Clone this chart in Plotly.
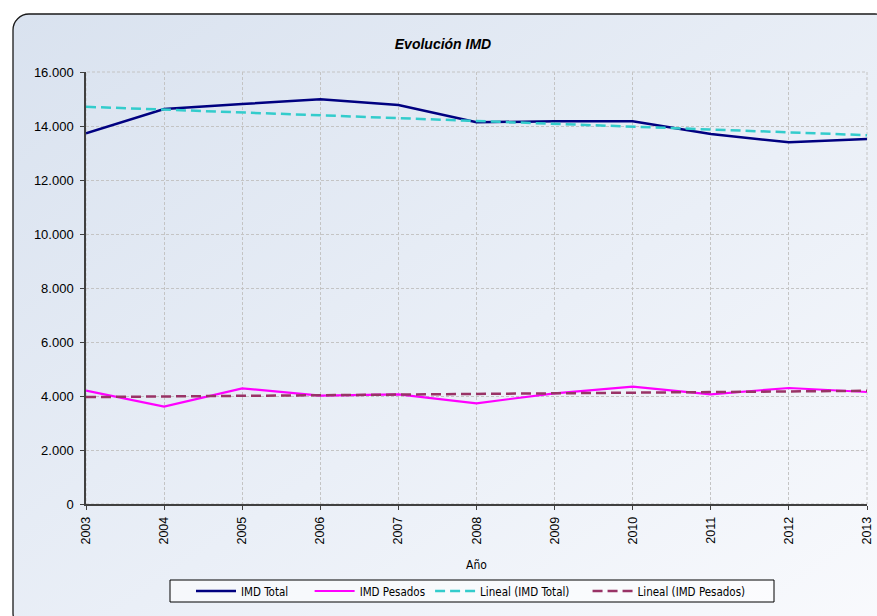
import base64
import numpy as np
import plotly.graph_objects as go

years = [2003, 2004, 2005, 2006, 2007, 2008, 2009, 2010, 2011, 2012, 2013]
imd_total = [13730, 14630, 14815, 14990, 14780, 14137, 14174, 14174, 13700, 13396, 13518]
imd_pesados = [4197, 3604, 4285, 4012, 4062, 3730, 4100, 4345, 4062, 4297, 4148]
y_ticks = [0, 2000, 4000, 6000, 8000, 10000, 12000, 14000, 16000]
series_names = ["IMD Total", "IMD Pesados", "Lineal (IMD Total)", "Lineal (IMD Pesados)"]

x = np.array(years, dtype=float)
fit_total = np.polyval(np.polyfit(x, imd_total, 1), x)
fit_pesados = np.polyval(np.polyfit(x, imd_pesados, 1), x)

W, H = 877, 616
L, R, T, B = 86, 10, 72, 112
pw, ph = W - L - R, H - T - B


def px_x(p):
    return (p - L) / pw


def px_y(p):
    return (H - B - p) / ph


# background: rounded rectangle with soft gradient
bx0, by0, bx1, by1 = 12, 13, 892, 630
bw, bh = bx1 - bx0, by1 - by0
svg = f'''<svg xmlns="http://www.w3.org/2000/svg" width="{bw}" height="{bh}" viewBox="0 0 {bw} {bh}" preserveAspectRatio="none">
<defs><linearGradient id="g" x1="0" y1="0" x2="1" y2="1">
<stop offset="0" stop-color="#d9e2ef"/><stop offset="0.55" stop-color="#eaeff7"/><stop offset="1" stop-color="#f9fafd"/>
</linearGradient></defs>
<rect x="1" y="1" width="{bw-2}" height="{bh-2}" rx="16" ry="16" fill="url(#g)" stroke="#1a1a1a" stroke-width="1.3"/>
</svg>'''
src = "data:image/svg+xml;base64," + base64.b64encode(svg.encode()).decode()

pad = ["\u00a0" * 5, "", "\u00a0" * 4, ""]

fig = go.Figure()
fig.add_trace(go.Scatter(x=years, y=imd_total, mode="lines", name=series_names[0] + pad[0],
                         line=dict(color="#000080", width=2.5)))
fig.add_trace(go.Scatter(x=years, y=imd_pesados, mode="lines", name=series_names[1] + pad[1],
                         line=dict(color="#ff00ff", width=2.2)))
fig.add_trace(go.Scatter(x=years, y=fit_total, mode="lines", name=series_names[2] + pad[2],
                         line=dict(color="#33cccc", width=2.5, dash="10px,5px")))
fig.add_trace(go.Scatter(x=years, y=fit_pesados, mode="lines", name=series_names[3] + pad[3],
                         line=dict(color="#993366", width=2.5, dash="10px,5px")))

fig.update_layout(
    width=W, height=H,
    margin=dict(l=L, r=R, t=T, b=B, autoexpand=False),
    paper_bgcolor="white",
    plot_bgcolor="rgba(0,0,0,0)",
    separators=",.",
    font=dict(family="Liberation Sans, Arial", size=12, color="#000000"),
    title=dict(text="<b><i>Evolución IMD</i></b>", x=443 / W, xref="container", xanchor="center",
               y=1 - 44 / H, yref="container", yanchor="middle",
               font=dict(family="Liberation Sans, Arial", size=14, color="#000000")),
    images=[dict(source=src, xref="paper", yref="paper",
                 x=px_x(bx0), y=px_y(by0),
                 sizex=bw / pw, sizey=bh / ph,
                 xanchor="left", yanchor="top", sizing="stretch", layer="below")],
    legend=dict(orientation="h", x=px_x(191), xanchor="left",
                y=px_y(591), yanchor="middle",
                bgcolor="rgba(0,0,0,0)", borderwidth=0,
                font=dict(family="DejaVu Sans Condensed, DejaVu Sans", size=11.5, color="#000000"),
                itemwidth=40, tracegroupgap=0),
    showlegend=True,
)

grid = dict(showgrid=True, gridcolor="#c4c4c4", griddash="3px,2px", gridwidth=1,
            showline=True, linecolor="#404040", linewidth=1.5,
            ticks="outside", ticklen=4, tickcolor="#404040", zeroline=False,
            automargin=False)
fig.update_xaxes(range=[2003, 2013], tickmode="array", tickvals=years, ticktext=[str(v) for v in years],
                 tickangle=-90, ticklabelstandoff=2,
                 tickfont=dict(family="Liberation Sans, Arial", size=12.5),
                 title=dict(text="Año", standoff=17,
                            font=dict(family="DejaVu Sans Condensed, DejaVu Sans", size=12)),
                 **grid)
fig.update_yaxes(range=[0, 16000], tickmode="array", tickvals=y_ticks, tickformat=",d",
                 ticklabelstandoff=4,
                 tickfont=dict(family="Liberation Sans, Arial", size=13),
                 **grid)

# dashed top/right border of plot area
fig.add_shape(type="rect", xref="paper", yref="paper", x0=0, y0=0, x1=1, y1=1,
              line=dict(color="#c4c4c4", width=1, dash="3px,2px"), layer="below")
# legend frame
fig.add_shape(type="rect", xref="paper", yref="paper",
              x0=px_x(170), x1=px_x(774), y0=px_y(602), y1=px_y(580),
              line=dict(color="#000000", width=1), fillcolor="rgba(255,255,255,0.55)", layer="above")

fig.write_html("out.html", post_script="document.body.style.margin='0px';",
               config={"displayModeBar": False})
